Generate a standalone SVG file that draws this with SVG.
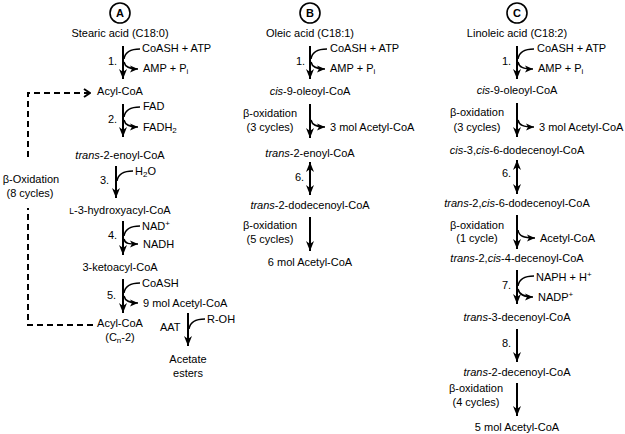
<svg xmlns="http://www.w3.org/2000/svg" width="625" height="434" viewBox="0 0 625 434">
<defs>
<style>
text{font-family:"Liberation Sans",Arial,sans-serif;font-size:11px;fill:#000}
.m{text-anchor:middle}
.ax{stroke:#000;stroke-width:2;fill:none;marker-end:url(#ah)}
.dx{stroke:#000;stroke-width:2;fill:none;marker-end:url(#ah);marker-start:url(#ah)}
.cv{stroke:#000;stroke-width:1.5;fill:none}
.co{stroke:#000;stroke-width:1.5;fill:none;marker-end:url(#sh)}
.circ{fill:#fff;stroke:#000;stroke-width:1.6}
.lt{font-weight:bold;font-size:11px;text-anchor:middle}
.dash{stroke:#000;stroke-width:2;fill:none;stroke-dasharray:6,4}
.sub{font-size:8px}
</style>
<marker id="ah" viewBox="0 0 10 10" refX="10" refY="5" markerWidth="10" markerHeight="10" markerUnits="userSpaceOnUse" orient="auto-start-reverse"><path d="M0,1 L10,5 L0,9 L3,5 z" fill="#000"/></marker>
<marker id="sh" viewBox="0 0 8 8" refX="8" refY="4" markerWidth="8" markerHeight="8" markerUnits="userSpaceOnUse" orient="auto"><path d="M0,0.5 L8,4 L0,7.5 L2,4 z" fill="#000"/></marker>
<marker id="ch" viewBox="0 0 8 10" refX="7" refY="5" markerWidth="8" markerHeight="10" markerUnits="userSpaceOnUse" orient="auto"><path d="M1,1 L7,5 L1,9" fill="none" stroke="#000" stroke-width="2"/></marker>
</defs>

<g id="connectors">
<!-- Column A -->
<path class="ax" d="M123,46 L123,79"/>
<path class="cv" d="M140,49 C131,49 125,52 124,59"/>
<path class="co" d="M124,62 C125,67 129,69 138,69"/>
<path class="ax" d="M123,104 L123,137"/>
<path class="cv" d="M140,107 C131,107 125,110 124,117"/>
<path class="co" d="M124,120 C125,125 129,127 138,127"/>
<path class="ax" d="M116,166 L116,198"/>
<path class="cv" d="M133,171 C124,171 118,174 117,181"/>
<path class="ax" d="M123,221 L123,255"/>
<path class="cv" d="M140,226 C131,226 125,229 124,236"/>
<path class="co" d="M124,239 C125,244 129,244 138,244"/>
<path class="ax" d="M123,279 L123,313"/>
<path class="cv" d="M140,283 C131,283 125,286 124,293"/>
<path class="co" d="M124,296 C125,301 129,303 138,303"/>
<path class="ax" d="M188,313 L188,346"/>
<path class="cv" d="M205,319 C196,319 190,322 189,329"/>
<path class="dash" d="M93,325 L28,325 L28,208"/>
<path class="dash" d="M28,157 L28,93 L90,93" marker-end="url(#ch)"/>
<!-- Column B -->
<path class="ax" d="M310,46 L310,79"/>
<path class="cv" d="M327,49 C318,49 312,52 311,59"/>
<path class="co" d="M311,62 C312,67 316,69 325,69"/>
<path class="ax" d="M310,104 L310,138"/>
<path class="co" d="M311,120 C312,125 316,127 325,127"/>
<path class="dx" d="M310,162 L310,195"/>
<path class="ax" d="M310,217 L310,251"/>
<!-- Column C -->
<path class="ax" d="M517,46 L517,79"/>
<path class="cv" d="M534,49 C525,49 519,52 518,59"/>
<path class="co" d="M518,62 C519,67 523,69 533,69"/>
<path class="ax" d="M517,103 L517,137"/>
<path class="co" d="M518,120 C519,125 523,127 534,127"/>
<path class="dx" d="M517,160 L517,194"/>
<path class="ax" d="M517,215 L517,249"/>
<path class="co" d="M518,230 C519,236 523,238 535,238"/>
<path class="ax" d="M517,270 L517,304"/>
<path class="cv" d="M534,276 C525,276 519,279 518,286"/>
<path class="co" d="M518,289 C519,294 523,297 533,297"/>
<path class="ax" d="M517,329 L517,362"/>
<path class="ax" d="M517,383 L517,416"/>
</g>

<!-- Column A nodes -->
<g id="label-A"><circle class="circ" cx="120" cy="13" r="10"/><text class="lt" x="120" y="17">A</text></g>
<g id="a-stearic"><text class="m" x="120" y="37">Stearic acid (C18:0)</text></g>
<g id="a-step1"><text x="108" y="65">1.</text><text x="142" y="52">CoASH + ATP</text><text x="143" y="72">AMP + P<tspan class="sub" dy="2">i</tspan></text></g>
<g id="a-acylcoa"><text class="m" x="120" y="95">Acyl-CoA</text></g>
<g id="a-step2"><text x="108" y="123">2.</text><text x="143" y="110">FAD</text><text x="143" y="131">FADH<tspan class="sub" dy="2">2</tspan></text></g>
<g id="a-enoyl"><text class="m" x="120" y="159"><tspan font-style="italic">trans</tspan>-2-enoyl-CoA</text></g>
<g id="a-step3"><text x="100" y="184">3.</text><text x="135" y="175">H<tspan class="sub" dy="2">2</tspan><tspan dy="-2">O</tspan></text></g>
<g id="a-hydroxy"><text class="m" x="120" y="214"><tspan font-size="8.5px">L</tspan>-3-hydroxyacyl-CoA</text></g>
<g id="a-step4"><text x="108" y="239">4.</text><text x="142" y="230">NAD<tspan class="sub" dy="-4">+</tspan></text><text x="143" y="248">NADH</text></g>
<g id="a-keto"><text class="m" x="120" y="271">3-ketoacyl-CoA</text></g>
<g id="a-step5"><text x="107" y="299">5.</text><text x="142" y="287">CoASH</text><text x="143" y="307">9 mol Acetyl-CoA</text></g>
<g id="a-acylcoa2"><text class="m" x="120" y="327">Acyl-CoA</text><text class="m" x="120" y="341">(C<tspan class="sub" dy="2">n</tspan><tspan dy="-2">-2)</tspan></text></g>
<g id="a-aat"><text x="160" y="331">AAT</text><text x="207" y="323">R-OH</text></g>
<g id="a-esters"><text class="m" x="188" y="363">Acetate</text><text class="m" x="188" y="377">esters</text></g>
<g id="a-cycle"><text class="m" x="31" y="183">β-Oxidation</text><text class="m" x="30" y="197">(8 cycles)</text></g>

<!-- Column B nodes -->
<g id="label-B"><circle class="circ" cx="310" cy="13" r="10"/><text class="lt" x="310" y="17">B</text></g>
<g id="b-oleic"><text class="m" x="310" y="37">Oleic acid (C18:1)</text></g>
<g id="b-step1"><text x="296" y="65">1.</text><text x="330" y="52">CoASH + ATP</text><text x="330" y="72">AMP + P<tspan class="sub" dy="2">i</tspan></text></g>
<g id="b-oleoyl"><text class="m" x="310" y="95"><tspan font-style="italic">cis</tspan>-9-oleoyl-CoA</text></g>
<g id="b-beta3"><text class="m" x="270" y="117">β-oxidation</text><text class="m" x="270" y="131">(3 cycles)</text><text x="330" y="131">3 mol Acetyl-CoA</text></g>
<g id="b-enoyl"><text class="m" x="310" y="157"><tspan font-style="italic">trans</tspan>-2-enoyl-CoA</text></g>
<g id="b-step6"><text x="295" y="181">6.</text></g>
<g id="b-dodecenoyl"><text class="m" x="310" y="209"><tspan font-style="italic">trans</tspan>-2-dodecenoyl-CoA</text></g>
<g id="b-beta5"><text class="m" x="270" y="229">β-oxidation</text><text class="m" x="270" y="243">(5 cycles)</text></g>
<g id="b-acetyl"><text class="m" x="310" y="266">6 mol Acetyl-CoA</text></g>

<!-- Column C nodes -->
<g id="label-C"><circle class="circ" cx="517" cy="13" r="10"/><text class="lt" x="517" y="17">C</text></g>
<g id="c-linoleic"><text class="m" x="517" y="37">Linoleic acid (C18:2)</text></g>
<g id="c-step1"><text x="502" y="65">1.</text><text x="537" y="52">CoASH + ATP</text><text x="538" y="72">AMP + P<tspan class="sub" dy="2">i</tspan></text></g>
<g id="c-oleoyl"><text class="m" x="517" y="94"><tspan font-style="italic">cis</tspan>-9-oleoyl-CoA</text></g>
<g id="c-beta3"><text class="m" x="477" y="116">β-oxidation</text><text class="m" x="477" y="131">(3 cycles)</text><text x="539" y="131">3 mol Acetyl-CoA</text></g>
<g id="c-cis36"><text class="m" x="517" y="154"><tspan font-style="italic">cis</tspan>-3,<tspan font-style="italic">cis</tspan>-6-dodecenoyl-CoA</text></g>
<g id="c-step6"><text x="502" y="177">6.</text></g>
<g id="c-trans2cis6"><text class="m" x="517" y="207"><tspan font-style="italic">trans</tspan>-2,<tspan font-style="italic">cis</tspan>-6-dodecenoyl-CoA</text></g>
<g id="c-beta1"><text class="m" x="477" y="229">β-oxidation</text><text class="m" x="477" y="242">(1 cycle)</text><text x="540" y="242">Acetyl-CoA</text></g>
<g id="c-trans2cis4"><text class="m" x="517" y="262"><tspan font-style="italic">trans</tspan>-2,<tspan font-style="italic">cis</tspan>-4-decenoyl-CoA</text></g>
<g id="c-step7"><text x="502" y="289">7.</text><text x="536" y="281">NAPH + H<tspan class="sub" dy="-4">+</tspan></text><text x="538" y="301">NADP<tspan class="sub" dy="-4">+</tspan></text></g>
<g id="c-trans3"><text class="m" x="517" y="321"><tspan font-style="italic">trans</tspan>-3-decenoyl-CoA</text></g>
<g id="c-step8"><text x="502" y="347">8.</text></g>
<g id="c-trans2"><text class="m" x="517" y="376"><tspan font-style="italic">trans</tspan>-2-decenoyl-CoA</text></g>
<g id="c-beta4"><text class="m" x="476" y="392">β-oxidation</text><text class="m" x="476" y="406">(4 cycles)</text></g>
<g id="c-acetyl"><text class="m" x="517" y="431">5 mol Acetyl-CoA</text></g>
</svg>
